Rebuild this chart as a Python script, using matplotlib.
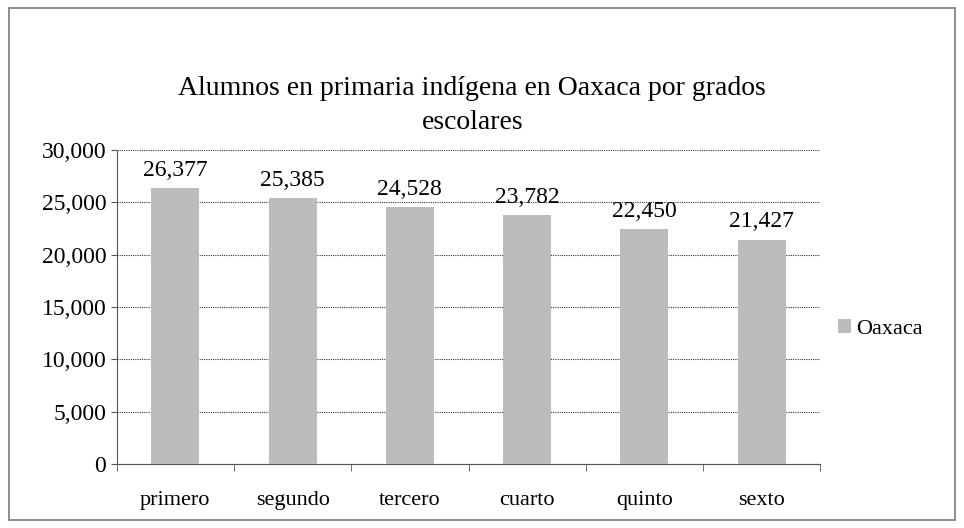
import numpy as np
import matplotlib.pyplot as plt
from matplotlib.patches import Rectangle
from matplotlib.ticker import FuncFormatter

grados = ['primero', 'segundo', 'tercero', 'cuarto', 'quinto', 'sexto']
alumnos = [26377, 25385, 24528, 23782, 22450, 21427]
serie = 'Oaxaca'

plt.rcParams['font.family'] = ['Liberation Serif', 'DejaVu Serif']

fig = plt.figure(figsize=(9.64, 5.28), dpi=100)
ax = fig.add_axes([0.121, 0.121, 0.730, 0.595])

x = np.arange(len(grados))
bars = ax.bar(x, alumnos, width=0.41, color='#bcbcbc', label=serie, zorder=3)

for xi, v in zip(x, alumnos):
    ax.text(xi, v + 700, '{:,}'.format(v), ha='center', va='bottom', fontsize=17)

ax.set_xlim(-0.5, len(grados) - 0.5)
ax.set_ylim(0, 30000)
ax.set_yticks(np.arange(0, 30001, 5000))
ax.yaxis.set_major_formatter(FuncFormatter(lambda v, p: '{:,}'.format(int(v))))
ax.set_xticks(x)
ax.set_xticklabels(grados)
ax.set_xticks(np.arange(-0.5, len(grados), 1.0), minor=True)
ax.tick_params(axis='x', which='major', length=0, labelsize=16, pad=19)
ax.tick_params(axis='x', which='minor', length=5, direction='out', color='#555555')
ax.tick_params(axis='y', length=4, labelsize=17, color='#555555')
ax.grid(axis='y', color='#333333', linestyle=(0, (1, 1)), linewidth=0.8, zorder=0)

for s in ['top', 'right']:
    ax.spines[s].set_visible(False)
ax.spines['left'].set_color('#555555')
ax.spines['left'].set_linestyle((0, (1, 1)))
ax.spines['bottom'].set_color('#555555')

fig.text(0.49, 0.80, 'Alumnos en primaria indígena en Oaxaca por grados\nescolares',
         ha='center', va='center', fontsize=20, linespacing=1.45)

ax.legend(loc='center left', bbox_to_anchor=(1.0, 0.43), frameon=False, fontsize=16,
          handlelength=0.6, handleheight=0.6, handletextpad=0.2, borderaxespad=0.4)

fig.patches.append(Rectangle((0.009, 0.015), 0.982, 0.970, transform=fig.transFigure,
                             fill=False, edgecolor='#777777', linewidth=1.2))

fig.savefig('out.png', dpi=100)
